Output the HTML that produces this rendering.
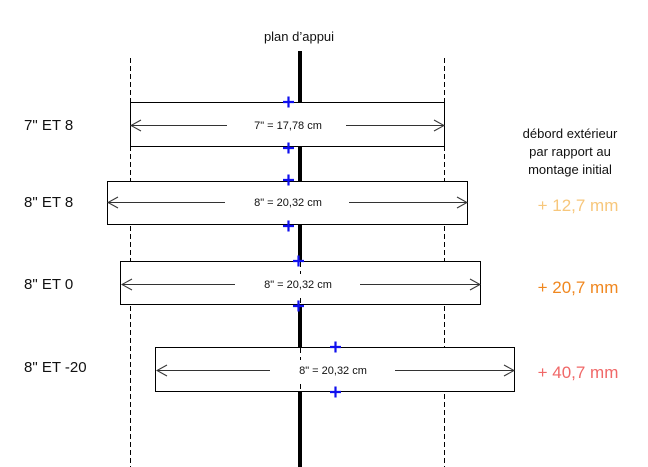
<!DOCTYPE html>
<html><head><meta charset="utf-8"><style>
html,body{margin:0;padding:0;background:#fff;}
svg{display:block;font-family:"Liberation Sans",sans-serif;}
</style></head><body>
<svg width="648" height="467" viewBox="0 0 648 467" xmlns="http://www.w3.org/2000/svg">
<rect width="648" height="467" fill="#fff"/>
<text x="299" y="41" font-size="13" text-anchor="middle" fill="#111">plan d’appui</text>
<line x1="130.5" y1="58" x2="130.5" y2="467" stroke="#000" stroke-width="1" stroke-dasharray="5,3"/>
<line x1="444.5" y1="58" x2="444.5" y2="467" stroke="#000" stroke-width="1" stroke-dasharray="5,3"/>
<rect x="298" y="51" width="4" height="416" fill="#000"/>
<g fill="#fff" stroke="#000" stroke-width="1">
<rect x="130.5" y="102.5" width="314" height="44"/>
<rect x="107.5" y="181.5" width="360" height="43"/>
<rect x="120.5" y="261.5" width="360" height="43"/>
<rect x="155.5" y="347.5" width="359" height="44"/>
</g>
<g stroke="#000" stroke-width="1" stroke-dasharray="5,4">
<line x1="300.5" y1="262" x2="300.5" y2="304"/>
<line x1="300.5" y1="348" x2="300.5" y2="391"/>
</g>
<g fill="#fff">
<rect x="245" y="115" width="86" height="20"/>
<rect x="245" y="192" width="86" height="20"/>
<rect x="255" y="274" width="86" height="20"/>
<rect x="290" y="360" width="86" height="20"/>
</g>
<g stroke="#333" stroke-width="1" fill="none">
<line x1="131" y1="125.5" x2="227" y2="125.5"/><line x1="346" y1="125.5" x2="444" y2="125.5"/>
<polyline points="141,120 131,125.5 141,131"/><polyline points="434,120 444,125.5 434,131"/>
<line x1="108" y1="202.5" x2="225" y2="202.5"/><line x1="349" y1="202.5" x2="467" y2="202.5"/>
<polyline points="118,197 108,202.5 118,208"/><polyline points="457,197 467,202.5 457,208"/>
<line x1="122" y1="284.5" x2="235" y2="284.5"/><line x1="360" y1="284.5" x2="480" y2="284.5"/>
<polyline points="132,279 122,284.5 132,290"/><polyline points="470,279 480,284.5 470,290"/>
<line x1="157" y1="370.5" x2="270" y2="370.5"/><line x1="395" y1="370.5" x2="514" y2="370.5"/>
<polyline points="167,365 157,370.5 167,376"/><polyline points="504,365 514,370.5 504,376"/>
</g>
<g font-size="11" fill="#111" text-anchor="middle">
<text x="288" y="129">7" = 17,78 cm</text>
<text x="288" y="206">8" = 20,32 cm</text>
<text x="298" y="288">8" = 20,32 cm</text>
<text x="333" y="374">8" = 20,32 cm</text>
</g>
<g stroke="#1010ee" stroke-width="2.2">
<path d="M283 102h11M288.5 96.5v11"/>
<path d="M283 148h11M288.5 142.5v11"/>
<path d="M283 180h11M288.5 174.5v11"/>
<path d="M283 226h11M288.5 220.5v11"/>
<path d="M293 261h11M298.5 255.5v11"/>
<path d="M293 306h11M298.5 300.5v11"/>
<path d="M330 347h11M335.5 341.5v11"/>
<path d="M330 392h11M335.5 386.5v11"/>
</g>
<g font-size="15" fill="#111">
<text x="24" y="130">7" ET 8</text>
<text x="24" y="207">8" ET 8</text>
<text x="24" y="289">8" ET 0</text>
<text x="24" y="372">8" ET -20</text>
</g>
<g font-size="13" fill="#111" text-anchor="middle">
<text x="570" y="138">débord extérieur</text>
<text x="570" y="156">par rapport au</text>
<text x="570" y="174">montage initial</text>
</g>
<g font-size="17" text-anchor="middle">
<text x="578" y="211" fill="#f7c77c">+ 12,7 mm</text>
<text x="578" y="293" fill="#f0871f">+ 20,7 mm</text>
<text x="578" y="378" fill="#f06868">+ 40,7 mm</text>
</g>
</svg>
</body></html>
